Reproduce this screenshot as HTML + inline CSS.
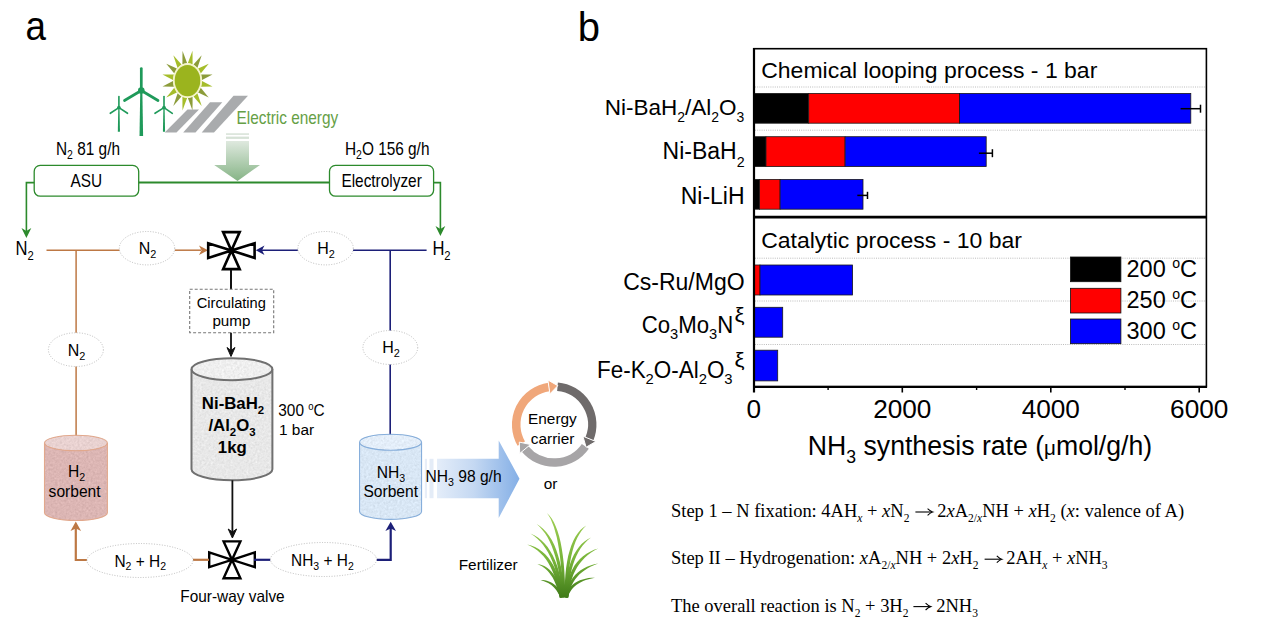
<!DOCTYPE html>
<html><head><meta charset="utf-8"><title>figure</title>
<style>html,body{margin:0;padding:0;background:#fff;width:1268px;height:633px;overflow:hidden}svg{display:block}</style>
</head><body>
<svg width="1268" height="633" viewBox="0 0 1268 633">
<defs>
 <linearGradient id="gElec" x1="0" y1="0" x2="0" y2="1">
  <stop offset="0" stop-color="#dfe9df"/><stop offset="1" stop-color="#86b486"/>
 </linearGradient>
 <linearGradient id="gBig" x1="0" y1="0" x2="1" y2="0">
  <stop offset="0" stop-color="#e4edf9"/><stop offset="0.45" stop-color="#c4d8f2"/><stop offset="1" stop-color="#84afe6"/>
 </linearGradient>
 <linearGradient id="gGrass" gradientUnits="userSpaceOnUse" x1="0" y1="512" x2="0" y2="598">
  <stop offset="0" stop-color="#a2d055"/><stop offset="0.55" stop-color="#78b53a"/><stop offset="1" stop-color="#3f7a18"/>
 </linearGradient>
 <filter id="tex" x="-5%" y="-5%" width="110%" height="110%" color-interpolation-filters="sRGB">
  <feTurbulence type="fractalNoise" baseFrequency="0.45" numOctaves="2" seed="7" result="n"/>
  <feColorMatrix in="n" type="matrix" values="0.33 0.33 0.33 0 0  0.33 0.33 0.33 0 0  0.33 0.33 0.33 0 0  0 0 0 0 1" result="g"/>
  <feComposite in="SourceGraphic" in2="g" operator="arithmetic" k1="0" k2="1" k3="0.22" k4="-0.11" result="m"/>
  <feComposite in="m" in2="SourceGraphic" operator="in"/>
 </filter>
 <marker id="mGreen" viewBox="0 0 10 10" refX="10" refY="5" markerWidth="7" markerHeight="7" markerUnits="userSpaceOnUse" orient="auto"><path d="M0,0 L10,5 L0,10 L3,5z" fill="#2f8f2f"/></marker>
</defs>
<rect width="1268" height="633" fill="#fff"/>
<text x="0" y="0" transform="translate(25.4,39.6) scale(0.9200,1)" font-family="'Liberation Sans', sans-serif" font-size="40.00" font-weight="normal" fill="#000" text-anchor="start" >a</text>
<text x="577.8" y="41" font-family="'Liberation Sans', sans-serif" font-size="40" font-weight="normal" fill="#000" text-anchor="start" >b</text>
<polygon points="139.5,136 143.10000000000002,136 142.35000000000002,90.5 140.25,90.5" fill="#1f9a5a"/><line x1="141.3" y1="90.5" x2="141.3" y2="68.5" stroke="#1f9a5a" stroke-width="2.7" stroke-linecap="round"/><line x1="141.3" y1="90.5" x2="124.5" y2="100.5" stroke="#1f9a5a" stroke-width="2.7" stroke-linecap="round"/><line x1="141.3" y1="90.5" x2="158" y2="100.5" stroke="#1f9a5a" stroke-width="2.7" stroke-linecap="round"/><circle cx="141.3" cy="90.5" r="3.3" fill="#1f9a5a"/><polygon points="117.82000000000001,131.8 119.98,131.8 119.53,107.6 118.27000000000001,107.6" fill="#1f9a5a"/><line x1="118.9" y1="107.6" x2="118.9" y2="96.5" stroke="#1f9a5a" stroke-width="1.62" stroke-linecap="round"/><line x1="118.9" y1="107.6" x2="110.3" y2="113.3" stroke="#1f9a5a" stroke-width="1.62" stroke-linecap="round"/><line x1="118.9" y1="107.6" x2="127.5" y2="113.3" stroke="#1f9a5a" stroke-width="1.62" stroke-linecap="round"/><circle cx="118.9" cy="107.6" r="1.8" fill="#1f9a5a"/><polygon points="162.92,131.8 165.08,131.8 164.63,107.6 163.37,107.6" fill="#1f9a5a"/><line x1="164.0" y1="107.6" x2="164.0" y2="96.5" stroke="#1f9a5a" stroke-width="1.62" stroke-linecap="round"/><line x1="164.0" y1="107.6" x2="155.0" y2="113.3" stroke="#1f9a5a" stroke-width="1.62" stroke-linecap="round"/><line x1="164.0" y1="107.6" x2="172.3" y2="113.3" stroke="#1f9a5a" stroke-width="1.62" stroke-linecap="round"/><circle cx="164.0" cy="107.6" r="1.8" fill="#1f9a5a"/><polygon points="202.0,81.1 212.5,86.6 201.1,86.8" fill="#a5bd2a"/><polygon points="200.7,87.8 208.7,97.5 198.1,92.6" fill="#8c9c3a"/><polygon points="197.4,93.3 201.7,106.0 193.5,96.6" fill="#a5bd2a"/><polygon points="192.6,97.0 192.5,110.5 187.9,98.1" fill="#8c9c3a"/><polygon points="187.1,98.1 182.5,110.5 182.4,97.0" fill="#a5bd2a"/><polygon points="181.5,96.6 173.3,106.0 177.6,93.3" fill="#8c9c3a"/><polygon points="176.9,92.6 166.3,97.5 174.3,87.8" fill="#a5bd2a"/><polygon points="173.9,86.8 162.5,86.6 173.0,81.1" fill="#8c9c3a"/><polygon points="173.0,80.1 162.5,74.6 173.9,74.4" fill="#a5bd2a"/><polygon points="174.3,73.4 166.3,63.7 176.9,68.6" fill="#8c9c3a"/><polygon points="177.6,67.9 173.3,55.2 181.5,64.6" fill="#a5bd2a"/><polygon points="182.4,64.2 182.5,50.7 187.1,63.1" fill="#8c9c3a"/><polygon points="187.9,63.1 192.5,50.7 192.6,64.2" fill="#a5bd2a"/><polygon points="193.5,64.6 201.7,55.2 197.4,67.9" fill="#8c9c3a"/><polygon points="198.1,68.6 208.7,63.7 200.7,73.4" fill="#a5bd2a"/><polygon points="201.1,74.4 212.5,74.6 202.0,80.1" fill="#8c9c3a"/><ellipse cx="187.5" cy="80.6" rx="14.5" ry="17.3" fill="#f4f4c8"/><ellipse cx="187.5" cy="80.6" rx="12.8" ry="15.6" fill="#9bb41e"/><polygon points="164.7,132.5 176.5,132.5 199.0,109.5 187.5,109.5" fill="#a9abad"/><polygon points="183.2,132.5 195.5,132.5 222.3,102.3 210.0,102.3" fill="#a9abad"/><polygon points="201.7,132.5 214.0,132.5 248.0,95.8 233.5,95.8" fill="#a9abad"/><text x="0" y="0" transform="translate(287.35,123.8) scale(0.8772,1)" font-family="'Liberation Sans', sans-serif" font-size="17.56" font-weight="normal" fill="#66a046" text-anchor="middle" >Electric energy</text>
<rect x="226" y="133.2" width="23" height="1.8" fill="#dde6dd"/><rect x="226" y="136.6" width="23" height="2.3" fill="#d6e2d6"/><path d="M226,140.9 L249,140.9 L249,165 L260,165 L237.5,181 L214.2,165 L226,165 Z" fill="url(#gElec)"/><rect x="34.2" y="165.4" width="104.5" height="30.8" rx="6" fill="none" stroke="#2c8a2c" stroke-width="1.3"/><rect x="329.5" y="165.4" width="104.1" height="30.8" rx="6" fill="none" stroke="#2c8a2c" stroke-width="1.3"/><line x1="138.7" y1="182.6" x2="329.5" y2="182.6" stroke="#2c8a2c" stroke-width="2"/><polyline points="34.2,182.6 26.4,182.6 26.4,232" fill="none" stroke="#2c8a2c" stroke-width="1.6"/><path d="M21.5,228 L26.4,238 L31.3,228 L26.4,231 Z" fill="#2c8a2c"/><polyline points="433.6,182.6 440.4,182.6 440.4,230" fill="none" stroke="#2c8a2c" stroke-width="1.6"/><path d="M435.5,226 L440.4,236 L445.3,226 L440.4,229 Z" fill="#2c8a2c"/><text x="0" y="0" transform="translate(88,154.9) scale(0.8621,1)" font-family="'Liberation Sans', sans-serif" font-size="17.86" font-weight="normal" fill="#000" text-anchor="middle" >N<tspan font-size="12.15" dy="4.29">2</tspan><tspan dy="-4.29">&#8203;</tspan> 81 g/h</text>
<text x="0" y="0" transform="translate(387.2,154.9) scale(0.8621,1)" font-family="'Liberation Sans', sans-serif" font-size="17.86" font-weight="normal" fill="#000" text-anchor="middle" >H<tspan font-size="12.15" dy="4.29">2</tspan><tspan dy="-4.29">&#8203;</tspan>O 156 g/h</text>
<text x="0" y="0" transform="translate(86.3,186.8) scale(0.8772,1)" font-family="'Liberation Sans', sans-serif" font-size="17.56" font-weight="normal" fill="#000" text-anchor="middle" >ASU</text>
<text x="0" y="0" transform="translate(381.6,186.8) scale(0.8772,1)" font-family="'Liberation Sans', sans-serif" font-size="17.56" font-weight="normal" fill="#000" text-anchor="middle" >Electrolyzer</text>
<text x="0" y="0" transform="translate(15.6,254.8) scale(0.8500,1)" font-family="'Liberation Sans', sans-serif" font-size="19.50" font-weight="normal" fill="#000" text-anchor="start" >N<tspan font-size="13.26" dy="5.50">2</tspan><tspan dy="-5.50">&#8203;</tspan></text>
<text x="0" y="0" transform="translate(432.4,254.8) scale(0.8500,1)" font-family="'Liberation Sans', sans-serif" font-size="19.50" font-weight="normal" fill="#000" text-anchor="start" >H<tspan font-size="13.26" dy="5.50">2</tspan><tspan dy="-5.50">&#8203;</tspan></text>
<line x1="46.5" y1="250.2" x2="120" y2="250.2" stroke="#bd7844" stroke-width="1.5"/><line x1="174.7" y1="250.2" x2="201" y2="250.2" stroke="#bd7844" stroke-width="1.5"/><path d="M199,245.5 L208,250.2 L199,255 L201.5,250.2 Z" fill="#bd7844"/><line x1="76.1" y1="250.2" x2="76.1" y2="436" stroke="#bd7844" stroke-width="1.5"/><line x1="353" y1="250.2" x2="426.6" y2="250.2" stroke="#1c1f78" stroke-width="1.5"/><line x1="297.9" y1="250.2" x2="262" y2="250.2" stroke="#1c1f78" stroke-width="1.5"/><path d="M264.5,245.5 L255.8,250.2 L264.5,255 L262,250.2 Z" fill="#1c1f78"/><line x1="390.2" y1="250.2" x2="390.2" y2="435" stroke="#1c1f78" stroke-width="1.6"/><ellipse cx="147" cy="248.2" rx="27.7" ry="16.7" fill="#fff" stroke="#b4b4b4" stroke-width="0.9" stroke-dasharray="1 1.6"/><text x="147.5" y="254" font-family="'Liberation Sans', sans-serif" font-size="16" font-weight="normal" fill="#000" text-anchor="middle" >N<tspan font-size="10.88" dy="3.84">2</tspan><tspan dy="-3.84">&#8203;</tspan></text>
<ellipse cx="325.6" cy="248.2" rx="27.7" ry="16.7" fill="#fff" stroke="#b4b4b4" stroke-width="0.9" stroke-dasharray="1 1.6"/><text x="326" y="254" font-family="'Liberation Sans', sans-serif" font-size="16" font-weight="normal" fill="#000" text-anchor="middle" >H<tspan font-size="10.88" dy="3.84">2</tspan><tspan dy="-3.84">&#8203;</tspan></text>
<ellipse cx="75.9" cy="349.65" rx="27.5" ry="16.85" fill="#fff" stroke="#b4b4b4" stroke-width="0.9" stroke-dasharray="1 1.6"/><text x="76.5" y="355.9" font-family="'Liberation Sans', sans-serif" font-size="16" font-weight="normal" fill="#000" text-anchor="middle" >N<tspan font-size="10.88" dy="3.84">2</tspan><tspan dy="-3.84">&#8203;</tspan></text>
<ellipse cx="390.3" cy="347.5" rx="27.4" ry="17" fill="#fff" stroke="#b4b4b4" stroke-width="0.9" stroke-dasharray="1 1.6"/><text x="391" y="353" font-family="'Liberation Sans', sans-serif" font-size="16" font-weight="normal" fill="#000" text-anchor="middle" >H<tspan font-size="10.88" dy="3.84">2</tspan><tspan dy="-3.84">&#8203;</tspan></text>
<path d="M231.4,250.6 L223.1,232.1 L239.70000000000002,232.1 Z M231.4,250.6 L223.1,269.1 L239.70000000000002,269.1 Z M231.4,250.6 L208.20000000000002,243.29999999999998 L208.20000000000002,257.9 Z M231.4,250.6 L254.6,243.29999999999998 L254.6,257.9 Z" fill="#fff" stroke="#000" stroke-width="2.6" stroke-linejoin="miter"/><path d="M232,559.8 L223.6,541.4 L240.4,541.4 Z M232,559.8 L223.6,578.1999999999999 L240.4,578.1999999999999 Z M232,559.8 L209.2,552.4 L209.2,567.1999999999999 Z M232,559.8 L254.8,552.4 L254.8,567.1999999999999 Z" fill="#fff" stroke="#000" stroke-width="2.4" stroke-linejoin="miter"/><line x1="231" y1="270" x2="231" y2="289.3" stroke="#111" stroke-width="2"/><rect x="189.7" y="289.3" width="84" height="43.4" fill="#fff" stroke="#777" stroke-width="1.1" stroke-dasharray="3 2"/><text x="0" y="0" transform="translate(231.3,307.6) scale(0.9630,1)" font-family="'Liberation Sans', sans-serif" font-size="15.20" font-weight="normal" fill="#000" text-anchor="middle" >Circulating</text>
<text x="231.4" y="325.7" font-family="'Liberation Sans', sans-serif" font-size="15.2" font-weight="normal" fill="#000" text-anchor="middle" >pump</text>
<line x1="231" y1="332.7" x2="231" y2="351" stroke="#111" stroke-width="1.8"/><path d="M227,347.5 L231,356.5 L235,347.5 L231,350.5 Z" fill="#111" stroke="#111" stroke-width="1" stroke-linejoin="round"/><path d="M191.5,369.2 L191.5,469.3 A40.45,11 0 0 0 272.4,469.3 L272.4,369.2 Z" fill="#e8e8e8" filter="url(#tex)"/><ellipse cx="231.95" cy="369.2" rx="40.45" ry="11" fill="#efefef" filter="url(#tex)"/><path d="M191.5,369.2 L191.5,469.3 A40.45,11 0 0 0 272.4,469.3 L272.4,369.2" fill="none" stroke="#707070" stroke-width="2"/><ellipse cx="231.95" cy="369.2" rx="40.45" ry="11" fill="none" stroke="#707070" stroke-width="2"/><text x="233" y="408.8" font-family="'Liberation Sans', sans-serif" font-size="16.8" font-weight="bold" fill="#000" text-anchor="middle" >Ni-BaH<tspan font-size="11.42" dy="5.00">2</tspan><tspan dy="-5.00">&#8203;</tspan></text>
<text x="232" y="430.8" font-family="'Liberation Sans', sans-serif" font-size="16.8" font-weight="bold" fill="#000" text-anchor="middle" >/Al<tspan font-size="11.42" dy="5.00">2</tspan><tspan dy="-5.00">&#8203;</tspan>O<tspan font-size="11.42" dy="5.00">3</tspan><tspan dy="-5.00">&#8203;</tspan></text>
<text x="232.3" y="452.5" font-family="'Liberation Sans', sans-serif" font-size="16.8" font-weight="bold" fill="#000" text-anchor="middle" >1kg</text>
<text x="0" y="0" transform="translate(278.3,415.8) scale(0.8929,1)" font-family="'Liberation Sans', sans-serif" font-size="17.25" font-weight="normal" fill="#000" text-anchor="start" >300 <tspan font-size="10.69" dy="-5.60">o</tspan><tspan dy="5.60">&#8203;</tspan>C</text>
<text x="279.0" y="434.8" font-family="'Liberation Sans', sans-serif" font-size="15.4" font-weight="normal" fill="#000" text-anchor="start" >1 bar</text>
<line x1="232.4" y1="480.3" x2="232.4" y2="532" stroke="#111" stroke-width="1.8"/><path d="M228.2,529 L232.4,538 L236.6,529 L232.4,532 Z" fill="#111" stroke="#111" stroke-width="1" stroke-linejoin="round"/><path d="M44.5,443 L44.5,512.75 A31.45,7.75 0 0 0 107.4,512.75 L107.4,443 Z" fill="#dcb6b4" filter="url(#tex)"/><ellipse cx="75.95" cy="443" rx="31.45" ry="7.75" fill="#e9d2d1" filter="url(#tex)"/><path d="M44.5,443 L44.5,512.75 A31.45,7.75 0 0 0 107.4,512.75 L107.4,443" fill="none" stroke="#e2a88c" stroke-width="1.1"/><ellipse cx="75.95" cy="443" rx="31.45" ry="7.75" fill="none" stroke="#e2a88c" stroke-width="1.1"/><text x="76.5" y="477.2" font-family="'Liberation Sans', sans-serif" font-size="15.6" font-weight="normal" fill="#000" text-anchor="middle" >H<tspan font-size="10.61" dy="3.74">2</tspan><tspan dy="-3.74">&#8203;</tspan></text>
<text x="74.6" y="497.4" font-family="'Liberation Sans', sans-serif" font-size="15.6" font-weight="normal" fill="#000" text-anchor="middle" >sorbent</text>
<path d="M359.55,442.2 L359.55,511.4 A31,8 0 0 0 421.55,511.4 L421.55,442.2 Z" fill="#d9e7f5" filter="url(#tex)"/><ellipse cx="390.55" cy="442.2" rx="31" ry="8" fill="#e4eef9" filter="url(#tex)"/><path d="M359.55,442.2 L359.55,511.4 A31,8 0 0 0 421.55,511.4 L421.55,442.2" fill="none" stroke="#86aedb" stroke-width="1.1"/><ellipse cx="390.55" cy="442.2" rx="31" ry="8" fill="none" stroke="#86aedb" stroke-width="1.1"/><text x="391" y="477.8" font-family="'Liberation Sans', sans-serif" font-size="15.6" font-weight="normal" fill="#000" text-anchor="middle" >NH<tspan font-size="10.61" dy="3.74">3</tspan><tspan dy="-3.74">&#8203;</tspan></text>
<text x="390.7" y="497.3" font-family="'Liberation Sans', sans-serif" font-size="15.6" font-weight="normal" fill="#000" text-anchor="middle" >Sorbent</text>
<polyline points="86.9,560 75.8,560 75.8,528" fill="none" stroke="#bd7844" stroke-width="2.2"/><path d="M70.5,531 L75.8,521.5 L81.1,531 L75.8,528.5 Z" fill="#bd7844"/><line x1="193" y1="559.8" x2="209" y2="559.8" stroke="#bd7844" stroke-width="2.2"/><line x1="254" y1="559.8" x2="270.4" y2="559.8" stroke="#1c1f78" stroke-width="2.2"/><polyline points="376.5,559.8 390.7,559.8 390.7,528" fill="none" stroke="#1c1f78" stroke-width="2.2"/><path d="M385.4,531 L390.7,521.8 L396,531 L390.7,528.5 Z" fill="#1c1f78"/><ellipse cx="140" cy="560.5" rx="53" ry="17" fill="#fff" stroke="#b4b4b4" stroke-width="0.9" stroke-dasharray="1 1.6"/><text x="0" y="0" transform="translate(140.2,566.6) scale(0.9650,1)" font-family="'Liberation Sans', sans-serif" font-size="16.00" font-weight="normal" fill="#000" text-anchor="middle" >N<tspan font-size="10.88" dy="3.84">2</tspan><tspan dy="-3.84">&#8203;</tspan> + H<tspan font-size="10.88" dy="3.84">2</tspan><tspan dy="-3.84">&#8203;</tspan></text>
<ellipse cx="323.5" cy="559.5" rx="53" ry="17" fill="#fff" stroke="#b4b4b4" stroke-width="0.9" stroke-dasharray="1 1.6"/><text x="0" y="0" transform="translate(322.4,565.8) scale(0.9650,1)" font-family="'Liberation Sans', sans-serif" font-size="16.00" font-weight="normal" fill="#000" text-anchor="middle" >NH<tspan font-size="10.88" dy="3.84">3</tspan><tspan dy="-3.84">&#8203;</tspan> + H<tspan font-size="10.88" dy="3.84">2</tspan><tspan dy="-3.84">&#8203;</tspan></text>
<text x="0" y="0" transform="translate(232.5,601.9) scale(0.9434,1)" font-family="'Liberation Sans', sans-serif" font-size="16.32" font-weight="normal" fill="#000" text-anchor="middle" >Four-way valve</text>
<path d="M437,458.8 L498.7,458.8 L498.7,440.5 L519.5,478.7 L498.7,518.1 L498.7,498.2 L437,498.2 Z" fill="url(#gBig)"/><rect x="424.8" y="458.8" width="2.2" height="39.4" fill="#e8eef8"/><rect x="429.5" y="458.8" width="4" height="39.4" fill="#e4ecf7"/><text x="425.5" y="482.1" font-family="'Liberation Sans', sans-serif" font-size="15.6" font-weight="normal" fill="#000" text-anchor="start" >NH<tspan font-size="10.61" dy="3.74">3</tspan><tspan dy="-3.74">&#8203;</tspan> 98 g/h</text>
<path d="M521.29,443.60 A38,38 0 0 1 548.91,386.97" fill="none" stroke="#f0a77a" stroke-width="8.5"/><path d="M557.51,386.74 A38,38 0 0 1 589.43,438.84" fill="none" stroke="#6f6b6b" stroke-width="8.5"/><path d="M585.33,446.40 A38,38 0 0 1 525.09,449.03" fill="none" stroke="#a7a5a7" stroke-width="8.5"/><polygon points="547.9,380.0 557.8,385.7 549.9,393.9" fill="#f0a77a" stroke="#fff" stroke-width="1"/><polygon points="595.9,441.5 586.1,447.2 582.9,436.2" fill="#6f6b6b" stroke="#fff" stroke-width="1"/><polygon points="519.7,453.5 519.3,442.1 530.5,444.5" fill="#a7a5a7" stroke="#fff" stroke-width="1"/><text x="552.4" y="424.4" font-family="'Liberation Sans', sans-serif" font-size="15.4" font-weight="normal" fill="#000" text-anchor="middle" >Energy</text>
<text x="552.6" y="443.5" font-family="'Liberation Sans', sans-serif" font-size="15.4" font-weight="normal" fill="#000" text-anchor="middle" >carrier</text>
<text x="550.5" y="488.7" font-family="'Liberation Sans', sans-serif" font-size="15.4" font-weight="normal" fill="#000" text-anchor="middle" >or</text>
<text x="488.2" y="569.5" font-family="'Liberation Sans', sans-serif" font-size="15.4" font-weight="normal" fill="#000" text-anchor="middle" >Fertilizer</text>
<polygon points="562.5,597.1 561.8,594.9 560.8,592.8 559.8,590.8 558.6,589.0 557.3,587.3 555.9,585.8 554.3,584.4 552.6,583.2 550.8,582.2 548.9,581.4 546.9,580.8 544.9,580.3 542.7,580.1 540.5,580.0 540.5,580.0 542.6,580.7 544.6,581.4 546.4,582.2 548.2,583.1 549.8,584.1 551.3,585.1 552.7,586.3 554.0,587.6 555.3,589.0 556.5,590.5 557.6,592.2 558.6,593.9 559.6,595.8 560.5,597.9" fill="url(#gGrass)"/><polygon points="562.1,597.3 561.3,593.1 560.3,589.2 559.2,585.6 557.9,582.2 556.5,579.1 554.9,576.2 553.2,573.7 551.3,571.4 549.3,569.4 547.1,567.7 544.8,566.3 542.4,565.3 540.0,564.6 537.4,564.2 537.4,564.2 539.8,565.2 541.9,566.3 544.0,567.7 545.9,569.2 547.7,571.0 549.4,573.0 551.0,575.2 552.6,577.6 554.0,580.3 555.3,583.3 556.6,586.5 557.8,590.0 558.9,593.7 559.9,597.7" fill="url(#gGrass)"/><polygon points="562.4,597.3 561.5,591.1 560.4,585.2 559.0,579.6 557.3,574.5 555.4,569.6 553.3,565.2 550.8,561.2 548.1,557.5 545.2,554.3 542.0,551.4 538.6,549.0 535.0,547.1 531.1,545.5 527.1,544.5 527.1,544.5 530.8,546.3 534.3,548.3 537.5,550.6 540.5,553.2 543.3,556.1 545.9,559.3 548.2,562.8 550.4,566.7 552.4,571.0 554.2,575.6 555.9,580.5 557.3,585.9 558.6,591.6 559.6,597.7" fill="url(#gGrass)"/><polygon points="563.2,597.4 562.5,590.3 561.5,583.6 560.3,577.2 558.8,571.3 557.1,565.7 555.1,560.4 552.8,555.6 550.3,551.2 547.6,547.1 544.6,543.5 541.3,540.3 537.9,537.6 534.2,535.2 530.3,533.4 530.3,533.4 533.8,535.8 537.1,538.5 540.2,541.5 543.0,544.8 545.6,548.5 548.1,552.5 550.3,556.8 552.4,561.5 554.3,566.6 555.9,572.1 557.4,577.9 558.7,584.1 559.8,590.7 560.8,597.6" fill="url(#gGrass)"/><polygon points="564.3,597.4 563.9,589.4 563.2,581.7 562.3,574.5 561.2,567.7 559.8,561.4 558.1,555.4 556.3,549.9 554.2,544.8 551.8,540.1 549.2,536.0 546.4,532.2 543.3,529.0 540.1,526.2 536.6,524.0 536.6,524.0 539.6,526.8 542.4,529.9 545.0,533.3 547.4,537.1 549.6,541.3 551.7,545.9 553.5,550.9 555.2,556.3 556.7,562.1 558.1,568.3 559.3,575.0 560.2,582.1 561.1,589.6 561.7,597.6" fill="url(#gGrass)"/><polygon points="565.2,597.5 565.1,588.1 564.8,579.2 564.3,570.8 563.7,562.9 562.8,555.5 561.8,548.7 560.6,542.3 559.2,536.5 557.6,531.2 555.8,526.4 553.9,522.2 551.7,518.5 549.4,515.4 546.9,512.9 546.9,512.9 548.8,515.8 550.7,519.1 552.3,522.9 553.9,527.1 555.3,531.9 556.7,537.1 557.9,542.9 558.9,549.1 559.9,555.9 560.7,563.2 561.4,571.0 562.0,579.3 562.4,588.2 562.8,597.5" fill="url(#gGrass)"/><polygon points="567.3,597.5 567.5,589.5 567.9,582.0 568.5,575.0 569.2,568.4 570.1,562.2 571.2,556.4 572.5,551.1 573.9,546.3 575.5,541.8 577.3,537.8 579.3,534.2 581.4,530.9 583.8,528.1 586.3,525.5 586.3,525.5 583.3,527.5 580.4,530.1 577.8,533.2 575.4,536.8 573.3,540.8 571.3,545.4 569.7,550.4 568.2,555.8 567.1,561.6 566.1,568.0 565.4,574.7 564.9,581.9 564.7,589.5 564.7,597.5" fill="url(#gGrass)"/><polygon points="567.8,597.5 568.2,591.1 568.9,585.0 569.7,579.3 570.7,573.9 571.8,568.9 573.2,564.2 574.8,559.8 576.5,555.7 578.4,552.0 580.5,548.5 582.9,545.3 585.4,542.4 588.1,539.8 591.1,537.4 591.1,537.4 587.7,539.2 584.5,541.5 581.5,544.1 578.8,547.2 576.3,550.7 574.0,554.5 572.0,558.7 570.3,563.2 568.8,568.1 567.6,573.3 566.6,578.8 565.9,584.7 565.4,590.9 565.2,597.5" fill="url(#gGrass)"/><polygon points="568.4,597.6 568.9,592.4 569.7,587.6 570.7,583.0 571.9,578.7 573.4,574.6 575.1,570.9 577.1,567.3 579.3,564.0 581.8,560.9 584.5,558.0 587.5,555.3 590.8,552.8 594.3,550.5 598.2,548.4 598.2,548.4 594.0,549.8 590.1,551.7 586.4,553.8 583.0,556.3 579.9,559.1 577.0,562.2 574.5,565.6 572.3,569.4 570.4,573.4 568.8,577.7 567.5,582.2 566.6,587.0 565.9,592.1 565.6,597.4" fill="url(#gGrass)"/><polygon points="568.2,597.6 568.9,594.1 569.7,590.7 570.8,587.5 572.1,584.5 573.6,581.8 575.4,579.1 577.3,576.7 579.5,574.3 582.0,572.2 584.7,570.2 587.7,568.3 590.9,566.5 594.4,564.9 598.2,563.4 598.2,563.4 594.2,564.3 590.4,565.4 586.9,566.8 583.6,568.4 580.6,570.3 577.8,572.4 575.3,574.8 573.0,577.4 571.1,580.2 569.4,583.3 568.1,586.5 567.0,589.9 566.2,593.6 565.8,597.4" fill="url(#gGrass)"/><polygon points="567.6,597.8 568.4,595.5 569.3,593.3 570.4,591.4 571.7,589.5 573.2,587.8 574.8,586.3 576.6,584.8 578.6,583.5 580.8,582.2 583.2,581.1 585.8,580.1 588.7,579.2 591.7,578.4 595.0,577.7 595.0,577.7 591.6,577.8 588.4,578.1 585.4,578.7 582.6,579.4 579.9,580.3 577.4,581.5 575.2,582.8 573.1,584.3 571.2,586.0 569.6,587.9 568.2,590.0 567.0,592.3 566.1,594.7 565.4,597.2" fill="url(#gGrass)"/><line x1="755" y1="87" x2="1205" y2="87" stroke="#bcbcbc" stroke-width="1" stroke-dasharray="1 1.2"/><line x1="755" y1="130.2" x2="1205" y2="130.2" stroke="#bcbcbc" stroke-width="1" stroke-dasharray="1 1.2"/><line x1="755" y1="258.2" x2="1205" y2="258.2" stroke="#bcbcbc" stroke-width="1" stroke-dasharray="1 1.2"/><line x1="755" y1="301" x2="1205" y2="301" stroke="#bcbcbc" stroke-width="1" stroke-dasharray="1 1.2"/><line x1="755" y1="344.5" x2="1205" y2="344.5" stroke="#bcbcbc" stroke-width="1" stroke-dasharray="1 1.2"/><rect x="753.9" y="93.4" width="54.8" height="29.8" fill="#000" stroke="#1a1a1a" stroke-width="0.8"/><rect x="808.7" y="93.4" width="150.9" height="29.8" fill="#ff0000" stroke="#1a1a1a" stroke-width="0.8"/><rect x="959.6" y="93.4" width="231.2" height="29.8" fill="#0000ff" stroke="#1a1a1a" stroke-width="0.8"/><rect x="753.9" y="136.7" width="12.1" height="29.9" fill="#000" stroke="#1a1a1a" stroke-width="0.8"/><rect x="766.0" y="136.7" width="79.1" height="29.9" fill="#ff0000" stroke="#1a1a1a" stroke-width="0.8"/><rect x="845.1" y="136.7" width="141.1" height="29.9" fill="#0000ff" stroke="#1a1a1a" stroke-width="0.8"/><rect x="753.9" y="179.4" width="5.7" height="29.8" fill="#000" stroke="#1a1a1a" stroke-width="0.8"/><rect x="759.6" y="179.4" width="20.5" height="29.8" fill="#ff0000" stroke="#1a1a1a" stroke-width="0.8"/><rect x="780.1" y="179.4" width="82.9" height="29.8" fill="#0000ff" stroke="#1a1a1a" stroke-width="0.8"/><rect x="753.9" y="265" width="6.1" height="30.0" fill="#ff0000" stroke="#1a1a1a" stroke-width="0.8"/><rect x="760.0" y="265" width="92.6" height="30.0" fill="#0000ff" stroke="#1a1a1a" stroke-width="0.8"/><rect x="753.9" y="307.3" width="28.8" height="29.9" fill="#0000ff" stroke="#1a1a1a" stroke-width="0.8"/><rect x="753.9" y="350.2" width="23.8" height="30.7" fill="#0000ff" stroke="#1a1a1a" stroke-width="0.8"/><line x1="1180.6" y1="108.7" x2="1200.5" y2="108.7" stroke="#000" stroke-width="1.5"/><line x1="1200.5" y1="104.7" x2="1200.5" y2="112.7" stroke="#000" stroke-width="1.5"/><line x1="978.9" y1="153.2" x2="992.4" y2="153.2" stroke="#000" stroke-width="1.5"/><line x1="992.4" y1="149.2" x2="992.4" y2="157.2" stroke="#000" stroke-width="1.5"/><line x1="857.3" y1="195.4" x2="867.5" y2="195.4" stroke="#000" stroke-width="1.5"/><line x1="867.5" y1="191.8" x2="867.5" y2="199.0" stroke="#000" stroke-width="1.5"/><rect x="754" y="48.7" width="452.4" height="338" fill="none" stroke="#000" stroke-width="1.6"/><line x1="754" y1="48" x2="754" y2="392.5" stroke="#000" stroke-width="2.2"/><line x1="753" y1="386.8" x2="1207" y2="386.8" stroke="#000" stroke-width="2.2"/><line x1="754" y1="217.1" x2="1207" y2="217.1" stroke="#000" stroke-width="2.8"/><line x1="902.3" y1="386" x2="902.3" y2="392.5" stroke="#000" stroke-width="1.6"/><line x1="1050.8" y1="386" x2="1050.8" y2="392.5" stroke="#000" stroke-width="1.6"/><line x1="1199.2" y1="386" x2="1199.2" y2="392.5" stroke="#000" stroke-width="1.6"/><line x1="828.1" y1="386" x2="828.1" y2="390" stroke="#000" stroke-width="1.4"/><line x1="976.6" y1="386" x2="976.6" y2="390" stroke="#000" stroke-width="1.4"/><line x1="1125.0" y1="386" x2="1125.0" y2="390" stroke="#000" stroke-width="1.4"/><text x="753.9" y="417.8" font-family="'Liberation Sans', sans-serif" font-size="26.2" font-weight="normal" fill="#000" text-anchor="middle" >0</text>
<text x="902.3" y="417.8" font-family="'Liberation Sans', sans-serif" font-size="26.2" font-weight="normal" fill="#000" text-anchor="middle" >2000</text>
<text x="1050.8" y="417.8" font-family="'Liberation Sans', sans-serif" font-size="26.2" font-weight="normal" fill="#000" text-anchor="middle" >4000</text>
<text x="1199.2" y="417.8" font-family="'Liberation Sans', sans-serif" font-size="26.2" font-weight="normal" fill="#000" text-anchor="middle" >6000</text>
<text x="0" y="0" transform="translate(807.8,454.9) scale(0.98,1)" font-family="'Liberation Sans', sans-serif" font-size="27.2">NH<tspan font-size="18" dy="8.5">3</tspan><tspan dy="-8.5"> synthesis rate (</tspan><tspan font-size="21">&#956;</tspan>mol/g/h)</text><text x="0" y="0" transform="translate(761.2,78.0) scale(1.0638,1)" font-family="'Liberation Sans', sans-serif" font-size="21.62" font-weight="normal" fill="#000" text-anchor="start" >Chemical looping process - 1 bar</text>
<text x="0" y="0" transform="translate(761.2,247.8) scale(1.0638,1)" font-family="'Liberation Sans', sans-serif" font-size="21.62" font-weight="normal" fill="#000" text-anchor="start" >Catalytic process - 10 bar</text>
<text x="0" y="0" transform="translate(744.3,114.5) scale(0.9780,1)" font-family="'Liberation Sans', sans-serif" font-size="23.00" font-weight="normal" fill="#000" text-anchor="end" >Ni-BaH<tspan font-size="14.26" dy="7.50">2</tspan><tspan dy="-7.50">&#8203;</tspan>/Al<tspan font-size="14.26" dy="7.50">2</tspan><tspan dy="-7.50">&#8203;</tspan>O<tspan font-size="14.26" dy="7.50">3</tspan><tspan dy="-7.50">&#8203;</tspan></text>
<text x="744.6" y="159.3" font-family="'Liberation Sans', sans-serif" font-size="23" font-weight="normal" fill="#000" text-anchor="end" >Ni-BaH<tspan font-size="14.26" dy="7.50">2</tspan><tspan dy="-7.50">&#8203;</tspan></text>
<text x="744.6" y="204.3" font-family="'Liberation Sans', sans-serif" font-size="23" font-weight="normal" fill="#000" text-anchor="end" >Ni-LiH</text>
<text x="744.6" y="289.5" font-family="'Liberation Sans', sans-serif" font-size="23" font-weight="normal" fill="#000" text-anchor="end" >Cs-Ru/MgO</text>
<text x="0" y="0" transform="translate(733.2,332.6) scale(0.965,1)" font-family="'Liberation Sans', sans-serif" font-size="23" text-anchor="end">Co<tspan font-size="15.2" dy="6.2">3</tspan><tspan dy="-6.2">Mo</tspan><tspan font-size="15.2" dy="6.2">3</tspan><tspan dy="-6.2">N</tspan></text><text x="0" y="0" transform="translate(744.6,321.9) scale(1.15,1)" font-family="'Liberation Sans', sans-serif" font-size="19.5" text-anchor="end">&#958;</text><text x="0" y="0" transform="translate(732.6,378) scale(0.975,1)" font-family="'Liberation Sans', sans-serif" font-size="23" text-anchor="end">Fe-K<tspan font-size="15.2" dy="6.2">2</tspan><tspan dy="-6.2">O-Al</tspan><tspan font-size="15.2" dy="6.2">2</tspan><tspan dy="-6.2">O</tspan><tspan font-size="15.2" dy="6.2">3</tspan></text><text x="0" y="0" transform="translate(744.6,367.3) scale(1.15,1)" font-family="'Liberation Sans', sans-serif" font-size="19.5" text-anchor="end">&#958;</text><rect x="1070.5" y="257" width="50.4" height="24.7" fill="#000" stroke="#111" stroke-width="0.8"/><text x="1126.5" y="277" font-family="'Liberation Sans', sans-serif" font-size="23.5" font-weight="normal" fill="#000" text-anchor="start" >200 <tspan font-size="14.10" dy="-9.00">o</tspan><tspan dy="9.00">&#8203;</tspan>C</text>
<rect x="1070.5" y="288.3" width="50.4" height="24.7" fill="#ff0000" stroke="#111" stroke-width="0.8"/><text x="1126.5" y="307.8" font-family="'Liberation Sans', sans-serif" font-size="23.5" font-weight="normal" fill="#000" text-anchor="start" >250 <tspan font-size="14.10" dy="-9.00">o</tspan><tspan dy="9.00">&#8203;</tspan>C</text>
<rect x="1070.5" y="319" width="50.4" height="24.7" fill="#0000ff" stroke="#111" stroke-width="0.8"/><text x="1126.5" y="339" font-family="'Liberation Sans', sans-serif" font-size="23.5" font-weight="normal" fill="#000" text-anchor="start" >300 <tspan font-size="14.10" dy="-9.00">o</tspan><tspan dy="9.00">&#8203;</tspan>C</text>
<text x="0" y="0" transform="translate(671,517.0) scale(0.934,1)" font-family="'Liberation Serif', serif" font-size="19.8" fill="#000">Step 1 &#8211; N fixation: 4AH<tspan font-size="12.4" dy="5" font-style="italic">x</tspan><tspan dy="-5"> + </tspan><tspan font-style="italic">x</tspan>N<tspan font-size="12.4" dy="5">2</tspan><tspan dy="-5"> </tspan><tspan class="arr" fill="none">&#8594;</tspan><tspan> 2</tspan><tspan font-style="italic">x</tspan>A<tspan font-size="12.4" dy="5">2/<tspan font-style="italic">x</tspan></tspan><tspan dy="-5">NH + </tspan><tspan font-style="italic">x</tspan>H<tspan font-size="12.4" dy="5">2</tspan><tspan dy="-5"> (</tspan><tspan font-style="italic">x</tspan>: valence of A)</text><text x="0" y="0" transform="translate(671,564.2) scale(0.934,1)" font-family="'Liberation Serif', serif" font-size="19.8" fill="#000">Step II &#8211; Hydrogenation: <tspan font-style="italic">x</tspan>A<tspan font-size="12.4" dy="5">2/<tspan font-style="italic">x</tspan></tspan><tspan dy="-5">NH + 2</tspan><tspan font-style="italic">x</tspan>H<tspan font-size="12.4" dy="5">2</tspan><tspan dy="-5"> </tspan><tspan class="arr" fill="none">&#8594;</tspan><tspan> 2AH</tspan><tspan font-size="12.4" dy="5" font-style="italic">x</tspan><tspan dy="-5"> + </tspan><tspan font-style="italic">x</tspan>NH<tspan font-size="12.4" dy="5">3</tspan></text><text x="0" y="0" transform="translate(671,611.6) scale(0.934,1)" font-family="'Liberation Serif', serif" font-size="19.8" fill="#000">The overall reaction is N<tspan font-size="12.4" dy="5">2</tspan><tspan dy="-5"> + 3H</tspan><tspan font-size="12.4" dy="5">2</tspan><tspan dy="-5"> </tspan><tspan class="arr" fill="none">&#8594;</tspan><tspan> 2NH</tspan><tspan font-size="12.4" dy="5">3</tspan></text><path d="M915.4,512.0 L931.5,512.0" stroke="#000" stroke-width="1.1"/><path d="M927.6,508.6 Q930.5,511.4 932.6,512.0 Q930.5,512.6 927.6,515.4" fill="none" stroke="#000" stroke-width="1.1"/><path d="M984.6,559.2 L1000.7,559.2" stroke="#000" stroke-width="1.1"/><path d="M996.8,555.8 Q999.7,558.6 1001.8,559.2 Q999.7,559.8 996.8,562.6" fill="none" stroke="#000" stroke-width="1.1"/><path d="M913.4,606.6 L929.5,606.6" stroke="#000" stroke-width="1.1"/><path d="M925.6,603.2 Q928.5,606.0 930.6,606.6 Q928.5,607.2 925.6,610.0" fill="none" stroke="#000" stroke-width="1.1"/></svg>
</body></html>
